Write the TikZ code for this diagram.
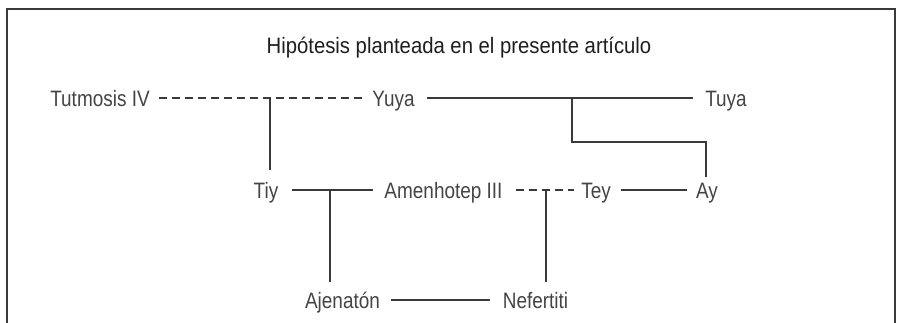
\documentclass[tikz,border=0pt]{standalone}
\usepackage{fontspec}
\setmainfont{Liberation Sans}
\newfontfamily\namefont[FakeStretch=0.85]{Liberation Sans}
\newfontfamily\titlefont[FakeStretch=0.91]{Liberation Sans}
\definecolor{inkline}{HTML}{3A3A3A}
\definecolor{inktext}{HTML}{444444}
\definecolor{inktitle}{HTML}{1E1E1E}
\tikzset{
  person/.style={inner sep=0pt, anchor=base, text=inktext, font=\namefont\fontsize{22.3}{24}\selectfont},
  headline/.style={inner sep=0pt, anchor=base, text=inktitle, font=\titlefont\fontsize{22.3}{24}\selectfont},
  link/.style={draw=inkline, line width=1.3pt},
  dlink/.style={link, dash pattern=on 8.5pt off 4.5pt},
  frameline/.style={draw=inkline, line width=1.4pt}
}
\begin{document}
\begin{tikzpicture}[x=1pt,y=-1pt]
\useasboundingbox (0,0) rectangle (897,322);
\draw[frameline] (7,323) -- (7,9) -- (895,9) -- (895,323);

\node[headline] (title) at (459,53) {Hipótesis planteada en el presente artículo};

\node[person] (tut)  at (100,106) {Tutmosis IV};
\node[person] (yuya) at (393.5,106) {Yuya};
\node[person] (tuya) at (726,106) {Tuya};
\node[person] (tiy)  at (266,198) {Tiy};
\node[person] (amen) at (443.5,198) {Amenhotep III};
\node[person] (tey)  at (596,198) {Tey};
\node[person] (ay)   at (707,198) {Ay};
\node[person] (ajen) at (342.5,308) {Ajenatón};
\node[person] (nef)  at (535.5,308) {Nefertiti};

% junctions
\coordinate (j1) at (270,98);
\coordinate (j1b) at (270,170);
\coordinate (j2) at (572,98);
\coordinate (j2b) at (572,142);
\coordinate (j2c) at (706,142);
\coordinate (j2d) at (706,177);
\coordinate (j3) at (330,190);
\coordinate (j3b) at (330,282);
\coordinate (j4) at (546,190);
\coordinate (j4b) at (546,282);

% couples
\draw[dlink] ([shift={(9pt,8pt)}]tut.base east) -- ([shift={(-7pt,8pt)}]yuya.base west);
\draw[link] ([shift={(12pt,8pt)}]yuya.base east) -- ([shift={(-12pt,8pt)}]tuya.base west);
\draw[link] ([shift={(14pt,8pt)}]tiy.base east) -- ([shift={(-11pt,8pt)}]amen.base west);
\draw[dlink] ([shift={(13pt,8pt)}]amen.base east) -- ([shift={(-7pt,8pt)}]tey.base west);
\draw[link] ([shift={(10pt,8pt)}]tey.base east) -- ([shift={(-9pt,8pt)}]ay.base west);
\draw[link] ([shift={(11pt,8pt)}]ajen.base east) -- ([shift={(-13pt,8pt)}]nef.base west);

% descent
\draw[link] (j1) -- (j1b);
\draw[link] (j2) -- (j2b) -- (j2c) -- (j2d);
\draw[link] (j3) -- (j3b);
\draw[link] (j4) -- (j4b);
\end{tikzpicture}
\end{document}
